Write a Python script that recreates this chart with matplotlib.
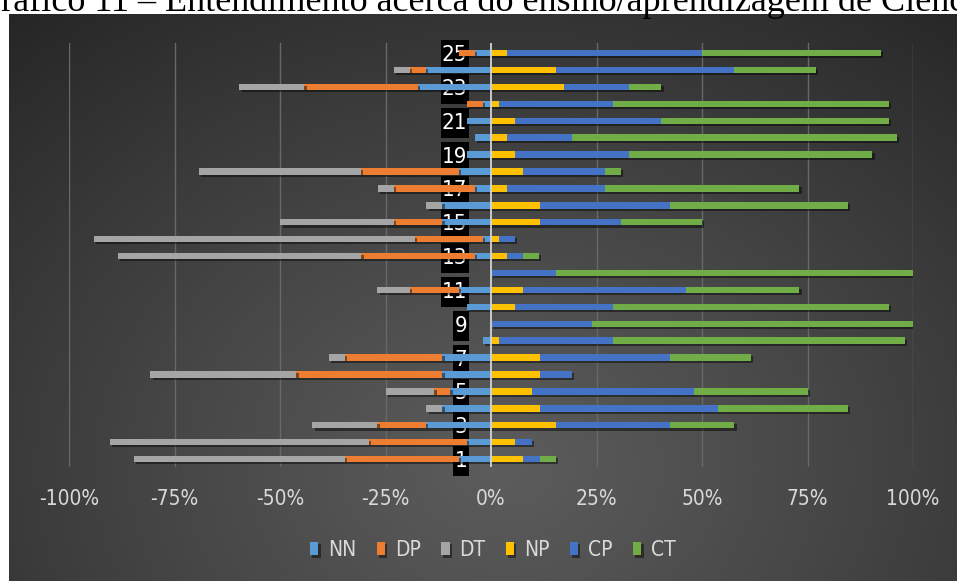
import numpy as np
import matplotlib
matplotlib.use("Agg")
import matplotlib.pyplot as plt
import matplotlib.patheffects as pe
from matplotlib.colors import to_rgb
from matplotlib.path import Path

# Items 1..25 (bottom to top); shares in percent of respondents
items = list(range(1, 26))
nn = [7.7, 5.8, 15.4, 11.5, 9.6, 11.5, 11.5, 1.9, 0, 5.8, 7.7, 0, 3.8,
      1.9, 11.5, 11.5, 3.8, 7.7, 5.8, 3.8, 5.8, 1.9, 17.3, 15.4, 3.8]
dp = [26.9, 23.1, 11.5, 0, 3.8, 34.6, 23.1, 0, 0, 0, 11.5, 0, 26.9,
      16.2, 11.5, 0, 19.2, 23.1, 0, 0, 0, 3.8, 26.9, 3.8, 3.8]
dt = [50.0, 61.5, 15.4, 3.8, 11.5, 34.6, 3.8, 0, 0, 0, 7.7, 0, 57.7,
      75.9, 26.9, 3.8, 3.8, 38.5, 0, 0, 0, 0, 15.4, 3.8, 0]
npos = [7.7, 5.8, 15.4, 11.5, 9.6, 11.5, 11.5, 1.9, 0, 5.8, 7.7, 0, 3.8,
        1.9, 11.5, 11.5, 3.8, 7.7, 5.8, 3.8, 5.8, 1.9, 17.3, 15.4, 3.8]
cp = [3.8, 3.8, 26.9, 42.3, 38.5, 7.7, 30.8, 26.9, 24.0, 23.1, 38.5, 15.4, 3.8,
      3.8, 19.2, 30.8, 23.1, 19.2, 26.9, 15.4, 34.6, 26.9, 15.4, 42.3, 46.2]
ct = [3.8, 0, 15.4, 30.8, 26.9, 0, 19.2, 69.2, 76.0, 65.4, 26.9, 84.6, 3.8,
      0, 19.2, 42.3, 46.2, 3.8, 57.7, 76.9, 53.8, 65.4, 7.7, 19.2, 42.3]

series_names = ["NN", "DP", "DT", "NP", "CP", "CT"]
colors = ["#5B9BD5", "#ED7D31", "#A5A5A5", "#FFC000", "#4472C4", "#70AD47"]
xticks = [-100, -75, -50, -25, 0, 25, 50, 75, 100]
title = "Gráfico 11 – Entendimento acerca do ensino/aprendizagem de Ciências"

W, H = 957, 581
fig = plt.figure(figsize=(W / 100, H / 100), dpi=100)
fig.patch.set_facecolor("white")

# dark radial-gradient chart background
bg_left, bg_top = 9 / W, 14 / H
bg = fig.add_axes([bg_left, 0, 1 - bg_left, 1 - bg_top], zorder=0)
gx, gy = np.meshgrid(np.linspace(0, 1, 400), np.linspace(0, 1, 250))
r = np.sqrt(((gx - 0.52) / 0.8) ** 2 + ((gy - 0.8) / 1.05) ** 2)
t = np.clip(r, 0, 1) ** 1.1
c_in = np.array(to_rgb("#5c5c5c"))
c_out = np.array(to_rgb("#262626"))
img = c_in[None, None, :] * (1 - t[..., None]) + c_out[None, None, :] * t[..., None]
bg.imshow(img, aspect="auto", extent=[0, 1, 0, 1], origin="upper")
bg.set_axis_off()

ax = fig.add_axes([69 / W, (H - 467) / H, 844 / W, 424 / H], zorder=1)
ax.set_facecolor("none")
# category labels sit just left of the zero line
ax.spines["left"].set_position(("data", -5.6))

y = np.array(items)
h = 0.38
shadow = [pe.SimplePatchShadow(offset=(1.5, -1.5), shadow_rgbFace="black", alpha=0.45), pe.Normal()]

neg_series = [nn, dp, dt]
pos_series = [npos, cp, ct]
handles = []
left = np.zeros(len(items))
for vals, name, col in zip(neg_series, series_names[:3], colors[:3]):
    v = -np.array(vals)
    bars = ax.barh(y, v, left=left, height=h, color=col, label=name, zorder=3)
    for b in bars:
        b.set_path_effects(shadow)
    handles.append(bars)
    left = left + v
left = np.zeros(len(items))
for vals, name, col in zip(pos_series, series_names[3:], colors[3:]):
    v = np.array(vals)
    bars = ax.barh(y, v, left=left, height=h, color=col, label=name, zorder=3)
    for b in bars:
        b.set_path_effects(shadow)
    handles.append(bars)
    left = left + v

ax.set_xlim(-100, 100)
ax.set_ylim(0.53, 25.6)
for xv in xticks:
    if xv != 0:
        ax.axvline(xv, color="#686868", lw=1.0, zorder=1)
ax.axvline(0, color="#d4d4d4", lw=1.3, zorder=4)

font_axis = "DejaVu Sans"
ax.set_xticks(xticks)
ax.set_xticklabels([f"{v}%" for v in xticks], family=font_axis, stretch="condensed",
                   fontsize=15, color="#d9d9d9")
ax.tick_params(axis="x", length=0, pad=16)


def tall_box(x0, y0, width, height, mutation_size):
    """Label background: tight at the sides, roomy above and below."""
    px, py = 0.06 * mutation_size, 0.22 * mutation_size
    x0, x1 = x0 - px, x0 + width + px
    y0, y1 = y0 - py, y0 + height + py
    return Path([(x0, y0), (x1, y0), (x1, y1), (x0, y1), (x0, y0)], closed=True)


ax.set_yticks(items)
ax.set_yticklabels([str(i) if i % 2 == 1 else "" for i in items],
                   family=font_axis, stretch="condensed", fontsize=16, color="white")
ax.tick_params(axis="y", length=0, pad=0, labelcolor="white")
for lab in ax.get_yticklabels():
    if lab.get_text():
        lab.set_bbox(dict(facecolor="black", edgecolor="none", boxstyle=tall_box))
    lab.set_zorder(6)
for s in ax.spines.values():
    s.set_visible(False)

leg = fig.legend(handles=handles, labels=series_names, loc="center",
                 bbox_to_anchor=(0.515, (H - 550) / H), ncol=6, frameon=False,
                 prop={"family": font_axis, "stretch": "condensed", "size": 15},
                 labelcolor="#d9d9d9",
                 handlelength=0.4, handleheight=0.62, handletextpad=0.45,
                 columnspacing=1.0)

fig.text(-25 / W, 1 - 11 / H, title, family=["Liberation Serif", "DejaVu Serif"],
         fontsize=26, color="black", ha="left", va="baseline")

fig.savefig("out.png", dpi=100, facecolor=fig.get_facecolor())
